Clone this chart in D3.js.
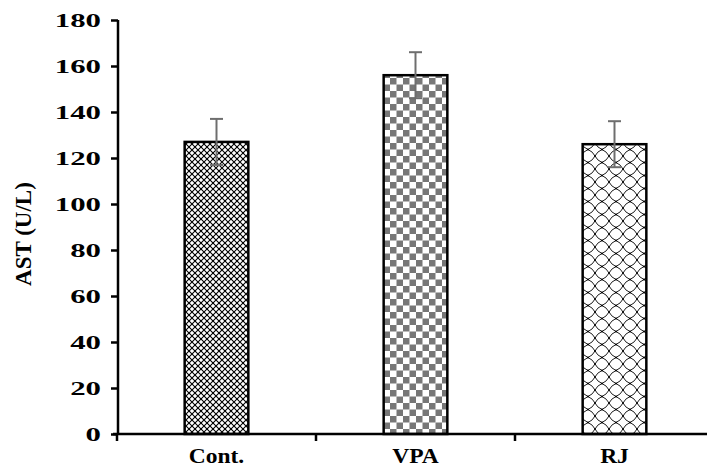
<!DOCTYPE html>
<html><head><meta charset="utf-8">
<script src="https://cdn.jsdelivr.net/npm/d3@7"></script>
<style>body{margin:0;background:#fff}svg{display:block}</style>
</head><body>
<script>
const categories = ["Cont.", "VPA", "RJ"];
const values = [127, 156, 126];
const errors = [10, 10, 10];
const yTicks = [0, 20, 40, 60, 80, 100, 120, 140, 160, 180];
const yLabel = "AST (U/L)";

const W = 707, H = 472;
const FONT = "'Liberation Serif', 'Times New Roman', serif";
const svg = d3.select("body").append("svg").attr("width", W).attr("height", H);
const defs = svg.append("defs");

// Pattern: Cont. (fine lattice)
const p1 = defs.append("pattern").attr("id","pCont").attr("patternUnits","userSpaceOnUse").attr("width",6).attr("height",6);
p1.append("rect").attr("width",6).attr("height",6).attr("fill","#fff");
p1.append("path").attr("d","M0,0L6,6M6,0L0,6").attr("stroke","#000").attr("stroke-width",1.1).attr("fill","none");
p1.append("rect").attr("x",2.2).attr("y",2.2).attr("width",1.6).attr("height",1.6).attr("fill","#000");

// Pattern: VPA checkerboard
const p2 = defs.append("pattern").attr("id","pVPA").attr("patternUnits","userSpaceOnUse").attr("width",13).attr("height",13);
p2.append("rect").attr("width",13).attr("height",13).attr("fill","#fff");
p2.append("rect").attr("x",0).attr("y",0).attr("width",6.5).attr("height",6.5).attr("fill","#777");
p2.append("rect").attr("x",6.5).attr("y",6.5).attr("width",6.5).attr("height",6.5).attr("fill","#777");

// Pattern: RJ ogee diamond lattice
const p3 = defs.append("pattern").attr("id","pRJ").attr("patternUnits","userSpaceOnUse").attr("width",14).attr("height",13);
p3.append("rect").attr("width",14).attr("height",13).attr("fill","#fff");
p3.append("path").attr("d",
  "M7,0Q9.2,4.5 14,6.5M14,6.5Q9.2,8.5 7,13M7,13Q4.8,8.5 0,6.5M0,6.5Q4.8,4.5 7,0")
  .attr("stroke","#1a1a1a").attr("stroke-width",1).attr("fill","none");
p3.append("rect").attr("x",6.2).attr("y",-0.8).attr("width",1.6).attr("height",1.6).attr("fill","#000");
p3.append("rect").attr("x",6.2).attr("y",12.2).attr("width",1.6).attr("height",1.6).attr("fill","#000");
p3.append("rect").attr("x",-0.8).attr("y",5.7).attr("width",1.6).attr("height",1.6).attr("fill","#000");
p3.append("rect").attr("x",13.2).attr("y",5.7).attr("width",1.6).attr("height",1.6).attr("fill","#000");

const fills = ["url(#pCont)", "url(#pVPA)", "url(#pRJ)"];

const x = d3.scaleBand().domain(categories).range([117, 714]).padding(0);
const y = d3.scaleLinear().domain([0, 180]).range([434, 20]);
const barW = x.bandwidth() * 0.32;

const g = svg.append("g");

// bars
g.selectAll("rect.bar").data(categories).enter().append("rect")
  .attr("class","bar")
  .attr("x", d => x(d) + x.bandwidth()/2 - barW/2)
  .attr("y", (d,i) => y(values[i]))
  .attr("width", barW)
  .attr("height", (d,i) => y(0) - y(values[i]))
  .attr("fill", (d,i) => fills[i])
  .attr("stroke", "#000").attr("stroke-width", 2.5);

// error bars
const eb = g.selectAll("g.err").data(categories).enter().append("g")
  .attr("transform", d => `translate(${x(d) + x.bandwidth()/2},0)`);
eb.append("line").attr("x1",0).attr("x2",0)
  .attr("y1",(d,i)=>y(values[i]-errors[i])).attr("y2",(d,i)=>y(values[i]+errors[i]))
  .attr("stroke","#6e6e6e").attr("stroke-width",2);
eb.append("line").attr("x1",-6.5).attr("x2",6.5)
  .attr("y1",(d,i)=>y(values[i]+errors[i])).attr("y2",(d,i)=>y(values[i]+errors[i]))
  .attr("stroke","#6e6e6e").attr("stroke-width",2);
eb.append("line").attr("x1",-6.5).attr("x2",6.5)
  .attr("y1",(d,i)=>y(values[i]-errors[i])).attr("y2",(d,i)=>y(values[i]-errors[i]))
  .attr("stroke","#6e6e6e").attr("stroke-width",2);

// y axis
const yAxis = d3.axisLeft(y).tickValues(yTicks).tickSize(7).tickPadding(0).tickFormat(d3.format("d"));
const ya = svg.append("g").attr("transform","translate(118,0)").call(yAxis);
ya.select(".domain").attr("stroke","#000").attr("stroke-width",2.5).attr("d", `M0,${y(180)}V${y(0)}`);
ya.selectAll(".tick line").attr("stroke","#000").attr("stroke-width",2.5);
ya.selectAll(".tick text").remove();
ya.selectAll(".tick").append("text")
  .attr("transform","translate(-17,0) scale(1.62,1)")
  .attr("text-anchor","end").attr("dy","0.34em")
  .attr("font-family",FONT).attr("font-weight","bold").attr("font-size",19)
  .attr("fill","#000")
  .text(d => d);

// x axis
const xa = svg.append("g").attr("transform",`translate(0,${y(0)})`);
xa.append("line").attr("x1",113).attr("x2",W).attr("y1",0).attr("y2",0).attr("stroke","#000").attr("stroke-width",2.5);
const bounds = categories.map(c => x(c)).concat([x(categories[categories.length-1]) + x.bandwidth()]);
xa.selectAll("line.xt").data(bounds).enter().append("line")
  .attr("x1", d => d).attr("x2", d => d).attr("y1", 0).attr("y2", 7)
  .attr("stroke","#000").attr("stroke-width",2.5);
xa.selectAll("text.xl").data(categories).enter().append("text")
  .attr("transform", d => `translate(${x(d)+x.bandwidth()/2},${29}) scale(1.12,1)`)
  .attr("text-anchor","middle")
  .attr("font-family",FONT).attr("font-weight","bold").attr("font-size",21)
  .attr("fill","#000").text(d => d);

// y label
svg.append("text")
  .attr("transform","translate(31,234) rotate(-90)")
  .attr("text-anchor","middle")
  .attr("font-family",FONT).attr("font-weight","bold").attr("font-size",23)
  .attr("fill","#000").text(yLabel);
</script>
</body></html>
